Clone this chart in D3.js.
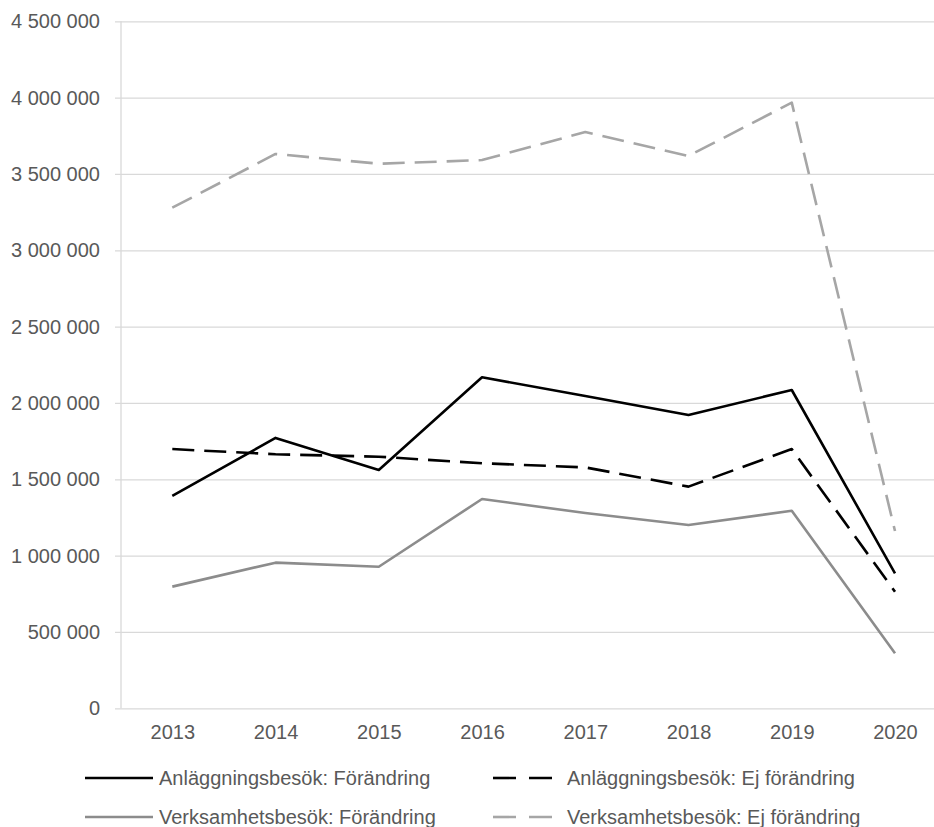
<!DOCTYPE html>
<html>
<head>
<meta charset="utf-8">
<script src="https://cdn.jsdelivr.net/npm/d3@7"></script>
<style>
  body { margin: 0; background: #fff; }
  svg text { font-family: "Liberation Sans", Arial, sans-serif; fill: #595959; }
</style>
</head>
<body>
<svg width="934" height="827"></svg>
<script>
// years on the x axis
var years = ["2013", "2014", "2015", "2016", "2017", "2018", "2019", "2020"];

// series values
var anlForandring   = [1391000, 1771000, 1561000, 2168000, 2046000, 1921000, 2085000, 884000];
var anlEjForandring = [1698000, 1664000, 1648000, 1605000, 1578000, 1452000, 1698000, 764000];
var verForandring   = [797000, 954000, 927000, 1371000, 1279000, 1201000, 1294000, 360000];
var verEjForandring = [3279000, 3631000, 3567000, 3591000, 3775000, 3618000, 3967000, 1161000];

var yTicks = [0, 500000, 1000000, 1500000, 2000000, 2500000, 3000000, 3500000, 4000000, 4500000];

var seriesNames = ["Anläggningsbesök: Förändring", "Anläggningsbesök: Ej förändring",
                   "Verksamhetsbesök: Förändring", "Verksamhetsbesök: Ej förändring"];

var series = [
  {name: seriesNames[0], values: anlForandring,   color: "#000000", dash: null},
  {name: seriesNames[1], values: anlEjForandring, color: "#000000", dash: "22,10"},
  {name: seriesNames[2], values: verForandring,   color: "#8c8c8c", dash: null},
  {name: seriesNames[3], values: verEjForandring, color: "#a6a6a6", dash: "22,10"}
];

var svg = d3.select("svg");

var x = d3.scalePoint()
    .domain(years)
    .range([172.3, 895])
    .padding(0);

var y = d3.scaleLinear()
    .domain([0, 4500000])
    .range([708.3, 21.3]);

var fmt = function (d) { return d3.format(",")(d).replace(/,/g, " "); };

// gridlines + y labels
var yAxis = svg.append("g")
    .attr("transform", "translate(121,0)")
    .call(d3.axisLeft(y)
        .tickValues(yTicks)
        .tickSize(-830)
        .tickSizeOuter(0)
        .tickPadding(21)
        .tickFormat(fmt));
yAxis.select(".domain").remove();
yAxis.selectAll(".tick line")
    .attr("x1", -6)
    .attr("stroke", "#d9d9d9")
    .attr("stroke-width", 1.3);
yAxis.selectAll(".tick text")
    .style("font-size", "20px");

// left axis line
svg.append("line")
    .attr("x1", 121).attr("x2", 121)
    .attr("y1", y(4500000)).attr("y2", y(0))
    .attr("stroke", "#d9d9d9")
    .attr("stroke-width", 1.3);

// x labels
var xAxis = svg.append("g")
    .attr("transform", "translate(0," + y(0) + ")")
    .call(d3.axisBottom(x).tickSize(0).tickPadding(17));
xAxis.select(".domain").remove();
xAxis.selectAll(".tick text").style("font-size", "20px");

var line = d3.line()
    .x(function (d, i) { return x(years[i]); })
    .y(function (d) { return y(d); });

// draw light series first so black sits on top
var drawOrder = [3, 2, 1, 0];
svg.append("g")
    .selectAll("path")
    .data(drawOrder.map(function (i) { return series[i]; }))
    .enter()
    .append("path")
    .attr("d", function (d) { return line(d.values); })
    .attr("fill", "none")
    .attr("stroke", function (d) { return d.color; })
    .attr("stroke-width", 2.6)
    .attr("stroke-linejoin", "round")
    .attr("stroke-dasharray", function (d) { return d.dash; });

// legend
var legendPos = [[85, 778], [493, 778], [85, 817], [493, 817]];
var legend = svg.append("g")
    .selectAll("g")
    .data(series)
    .enter()
    .append("g")
    .attr("transform", function (d, i) { return "translate(" + legendPos[i][0] + "," + legendPos[i][1] + ")"; });

legend.append("line")
    .attr("x1", 0)
    .attr("x2", function (d) { return d.dash ? 60 : 68; })
    .attr("stroke", function (d) { return d.color; })
    .attr("stroke-width", 2.6)
    .attr("stroke-dasharray", function (d) { return d.dash ? "23,13" : null; });

legend.append("text")
    .attr("x", 74)
    .attr("dy", "0.35em")
    .style("font-size", "20px")
    .text(function (d) { return d.name; });
</script>
</body>
</html>
